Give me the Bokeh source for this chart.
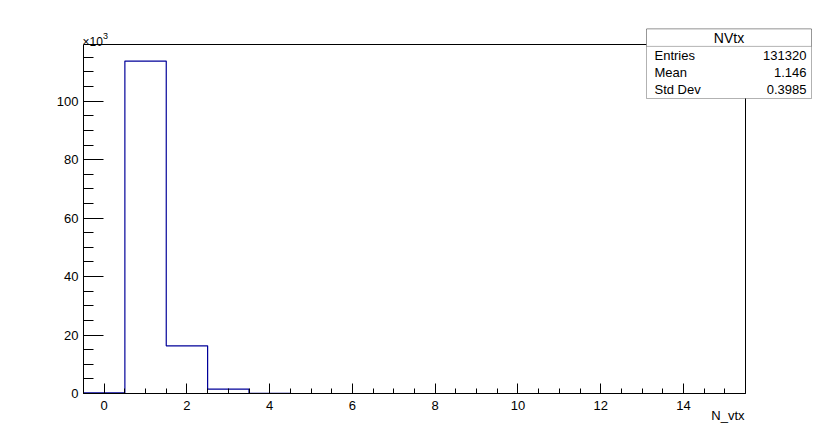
from bokeh.plotting import figure
from bokeh.models import Range1d, SingleIntervalTicker, FixedTicker, BoxAnnotation, Label, LinearAxis
from bokeh.embed import file_html
from bokeh.resources import INLINE

# ---- data ----
bin_low = -0.5
bin_width = 1.0
counts = [200, 113700, 16300, 1500, 90, 0, 0, 0, 0, 0, 0, 0, 0, 0, 0, 0]
y_scale_factor = 1000  # axis shown in units of 10^3
stats_title = "NVtx"
stats_names = ["Entries", "Mean", "Std Dev"]
stats_values = ["131320", "1.146", "0.3985"]
x_title = "N_vtx"

FONT = "Liberation Sans"

nbins = len(counts)
x0 = bin_low
x1 = bin_low + nbins * bin_width
ys = [c / y_scale_factor for c in counts]
y_top = max(ys) * 1.05

# ---- geometry (pixels in the canvas) ----
W, H = 828, 437
AX_L, AX_R, AX_T, AX_B = 83, 745, 44, 393      # visible histogram box
FR_L, FR_R, FR_T, FR_B = 20, 824, 14, 432      # bokeh frame (larger, holds stats box etc.)
sx = (AX_R - AX_L) / (x1 - x0)
sy = (AX_B - AX_T) / y_top
xr = Range1d(x0 - (AX_L - FR_L) / sx, x1 + (FR_R - AX_R) / sx)
yr = Range1d(0 - (FR_B - AX_B) / sy, y_top + (AX_T - FR_T) / sy)

p = figure(width=W, height=H, x_range=xr, y_range=yr,
           x_axis_location=None, y_axis_location=None,
           output_backend="svg", toolbar_location=None,
           min_border_left=FR_L, min_border_right=W - FR_R,
           min_border_top=FR_T, min_border_bottom=H - FR_B)
p.grid.visible = False
p.outline_line_color = None
p.background_fill_color = "white"
p.border_fill_color = "white"


def style_axis(a, major_in, minor_in, standoff):
    a.major_tick_in = major_in
    a.major_tick_out = 0
    a.minor_tick_in = minor_in
    a.minor_tick_out = 0
    a.major_label_standoff = standoff
    a.major_label_text_font = FONT
    a.major_label_text_font_size = "13px"
    a.major_label_text_color = "black"
    a.axis_line_color = "black"
    a.major_tick_line_color = "black"
    a.minor_tick_line_color = "black"


xa = LinearAxis(fixed_location=0, bounds=(x0, x1),
                ticker=SingleIntervalTicker(interval=2, num_minor_ticks=4))
style_axis(xa, 10, 5, 7)
p.add_layout(xa, "below")

ya = LinearAxis(fixed_location=x0, bounds=(0, y_top),
                ticker=SingleIntervalTicker(interval=20, num_minor_ticks=4))
style_axis(ya, 20, 10, 5)
p.add_layout(ya, "left")

# top and right edges of the histogram box (plain lines, no ticks)
ta = LinearAxis(fixed_location=y_top, bounds=(x0, x1),
                ticker=FixedTicker(ticks=[], minor_ticks=[]))
style_axis(ta, 0, 0, 0)
p.add_layout(ta, "above")

ra = LinearAxis(fixed_location=x1, bounds=(0, y_top),
                ticker=FixedTicker(ticks=[], minor_ticks=[]))
style_axis(ra, 0, 0, 0)
p.add_layout(ra, "right")

# histogram outline
hx, hy = [], []
for i, v in enumerate(ys):
    lo = bin_low + i * bin_width
    hx += [lo, lo + bin_width]
    hy += [v, v]
p.line(hx, hy, line_color="#000099", line_width=1.2)


def dx(px):  # canvas px -> data x
    return x0 + (px - AX_L) / sx


def dy(py):  # canvas px -> data y
    return (AX_B - py) / sy


# stats box
SB_L, SB_R, SB_T, SB_B = 646, 811, 28.5, 98
row_h = (SB_B - SB_T) / (len(stats_names) + 1)
box = BoxAnnotation(left=dx(SB_L), right=dx(SB_R), top=dy(SB_T), bottom=dy(SB_B),
                    fill_color="white", fill_alpha=1, line_color="black", line_width=1,
                    level="overlay")
p.add_layout(box)
box2 = BoxAnnotation(left=dx(SB_L), right=dx(SB_R), top=dy(SB_T), bottom=dy(SB_T + row_h),
                     fill_color="white", fill_alpha=1, line_color="black", line_width=1,
                     level="overlay")
p.add_layout(box2)


def lab(x, y, t, align="left", size="13px", baseline="middle"):
    p.add_layout(Label(x=x, y=y, text=t, text_align=align, text_baseline=baseline,
                       text_font=FONT, text_font_size=size, text_color="black",
                       level="overlay"))


lab(dx((SB_L + SB_R) / 2), dy(SB_T + row_h / 2), stats_title, align="center", size="14px")
for i, (name, val) in enumerate(zip(stats_names, stats_values)):
    yy = SB_T + row_h * (i + 1.5)
    lab(dx(SB_L + 8), dy(yy), name)
    lab(dx(SB_R - 5), dy(yy), val, align="right")

# x10^3 multiplier
lab(dx(82), dy(41), "\u00d710", baseline="alphabetic", size="12px")
lab(dx(102.5), dy(35), "3", baseline="alphabetic", size="9px")

# x axis title
lab(dx(744), dy(415), x_title, align="right")

open("out.html", "w").write(file_html(p, INLINE))
